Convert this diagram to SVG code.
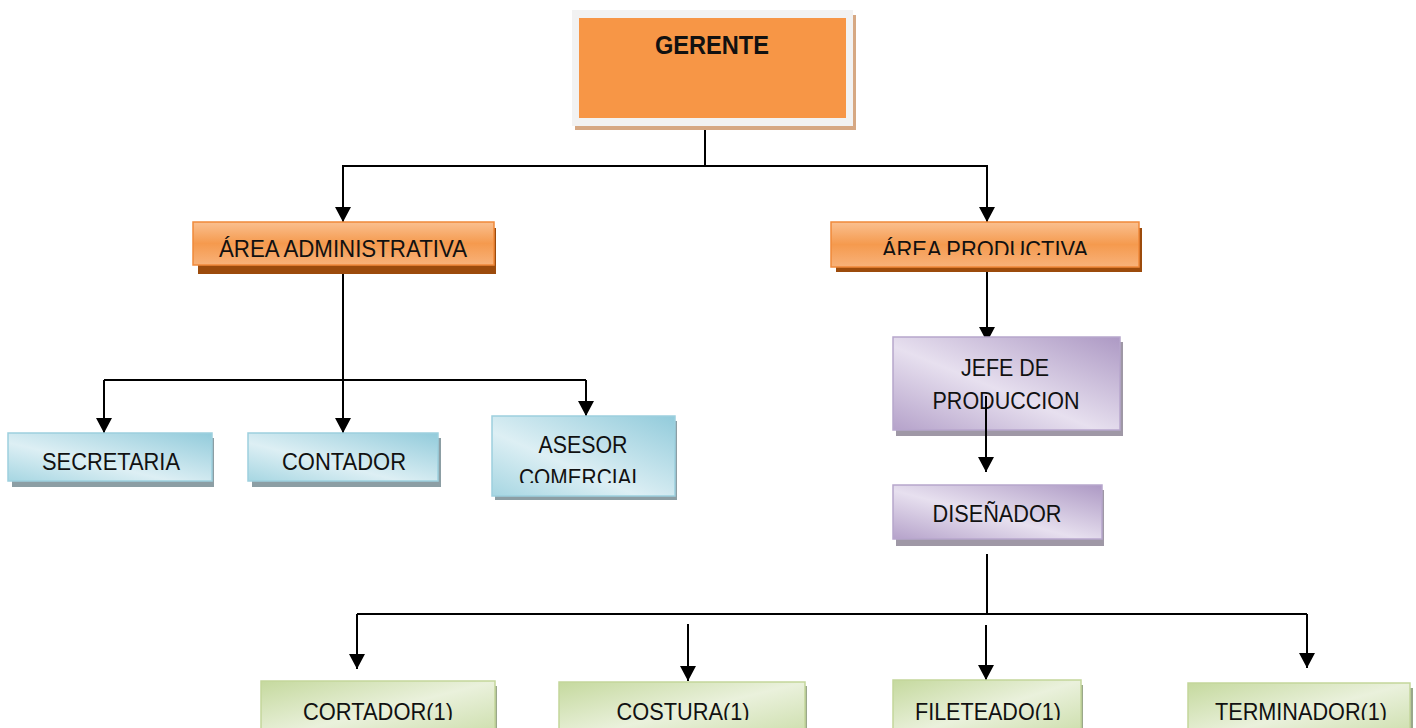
<svg xmlns="http://www.w3.org/2000/svg" width="1416" height="728" viewBox="0 0 1416 728">
<style>
text{font-family:"Liberation Sans",Arial,sans-serif;fill:#111;text-anchor:middle}
.t{font-size:24px}
.c{fill:none;stroke:#000;stroke-width:2}
.ca{fill:none;stroke:#000;stroke-width:2;marker-end:url(#ah)}
.og{fill:url(#gO);stroke:#f0893a;stroke-width:1.5}
.osh{fill:#9c4b0c}
.bl{fill:url(#gB);stroke:#9dd0de;stroke-width:1.5}
.bsh{fill:#8c9ea4}
.pu{fill:url(#gP);stroke:#b7a6cc;stroke-width:1.5}
.psh{fill:#9f98a6}
.gr{fill:url(#gG);stroke:#c3d69b;stroke-width:1.5}
.gsh{fill:#9aa88a}
</style>
<defs>
<marker id="ah" markerUnits="userSpaceOnUse" markerWidth="16" markerHeight="16" refX="15" refY="8" orient="auto">
<path d="M0,0 L15,8 L0,16 z" fill="#000"/>
</marker>
<linearGradient id="gO" x1="0" y1="0" x2="0" y2="1">
<stop offset="0" stop-color="#fac090"/>
<stop offset="0.5" stop-color="#f59a4e"/>
<stop offset="1" stop-color="#f8b27a"/>
</linearGradient>
<linearGradient id="gB" x1="0" y1="1" x2="1" y2="0">
<stop offset="0" stop-color="#a6d6e2"/>
<stop offset="0.4" stop-color="#ddeff4"/>
<stop offset="1" stop-color="#92cbdb"/>
</linearGradient>
<linearGradient id="gP" x1="0" y1="1" x2="1" y2="0">
<stop offset="0" stop-color="#b5a2ca"/>
<stop offset="0.45" stop-color="#e7e0ef"/>
<stop offset="1" stop-color="#ad99c4"/>
</linearGradient>
<linearGradient id="gG" x1="0" y1="0" x2="1" y2="1">
<stop offset="0" stop-color="#c5d99e"/>
<stop offset="0.5" stop-color="#eaf1dc"/>
<stop offset="1" stop-color="#c9dca6"/>
</linearGradient>
<clipPath id="clProd"><rect x="831" y="222" width="310" height="33"/></clipPath>
<clipPath id="clAses"><rect x="492" y="416" width="185" height="67"/></clipPath>
<clipPath id="clBot"><rect x="0" y="670" width="1416" height="50"/></clipPath>
</defs>

<g id="connectors">
<path class="c" d="M705,126 V166"/>
<path class="ca" d="M705,166 H343 V222"/>
<path class="ca" d="M705,166 H987 V222"/>
<path class="ca" d="M343,268 V433"/>
<path class="c" d="M104,380 H586"/>
<path class="ca" d="M104,380 V433"/>
<path class="ca" d="M586,380 V416"/>
<path class="ca" d="M987,268 V342"/>
<path class="c" d="M987,554 V614"/>
<path class="c" d="M357,614 H1307"/>
<path class="ca" d="M357,614 V669"/>
<path class="ca" d="M1307,614 V668"/>
<path class="ca" d="M688,624 V681"/>
<path class="ca" d="M986,625 V680"/>
</g>

<g id="gerente">
<rect x="575" y="15" width="281" height="115" fill="#d6a883"/>
<rect x="572" y="10" width="281" height="116" fill="#f2f2f2"/>
<rect x="579" y="18" width="267" height="100" fill="#f79646"/>
<text x="712" y="54" font-size="26" font-weight="bold" textLength="114" lengthAdjust="spacingAndGlyphs">GERENTE</text>
</g>

<g id="area-administrativa">
<rect class="osh" x="198" y="228" width="298" height="46"/>
<rect class="og" x="193" y="222" width="301" height="43"/>
<text class="t" x="343" y="257" textLength="248" lengthAdjust="spacingAndGlyphs">ÁREA ADMINISTRATIVA</text>
</g>

<g id="area-productiva">
<rect class="osh" x="836" y="228" width="306" height="44"/>
<rect class="og" x="831" y="222" width="308" height="45"/>
<text class="t" x="985" y="258" clip-path="url(#clProd)" textLength="206" lengthAdjust="spacingAndGlyphs">ÁREA PRODUCTIVA</text>
</g>

<g id="secretaria">
<rect class="bsh" x="12" y="438" width="202" height="49"/>
<rect class="bl" x="8" y="433" width="204" height="48"/>
<text class="t" x="111" y="470" textLength="138" lengthAdjust="spacingAndGlyphs">SECRETARIA</text>
</g>

<g id="contador">
<rect class="bsh" x="252" y="438" width="189" height="49"/>
<rect class="bl" x="248" y="433" width="190" height="48"/>
<text class="t" x="344" y="470" textLength="124" lengthAdjust="spacingAndGlyphs">CONTADOR</text>
</g>

<g id="asesor-comercial">
<rect class="bsh" x="495" y="421" width="182" height="79"/>
<rect class="bl" x="492" y="416" width="183" height="80"/>
<text class="t" x="583" y="453" textLength="89" lengthAdjust="spacingAndGlyphs">ASESOR</text>
<text class="t" x="581" y="486" clip-path="url(#clAses)" textLength="124" lengthAdjust="spacingAndGlyphs">COMERCIAL</text>
</g>

<g id="jefe-produccion">
<rect class="psh" x="896" y="342" width="227" height="94"/>
<rect class="pu" x="893" y="337" width="227" height="93"/>
<text class="t" x="1005" y="376" textLength="88" lengthAdjust="spacingAndGlyphs">JEFE DE</text>
<text class="t" x="1006" y="409" textLength="147" lengthAdjust="spacingAndGlyphs">PRODUCCION</text>
</g>

<path class="ca" d="M986,396 V472"/>

<g id="disenador">
<rect class="psh" x="896" y="490" width="208" height="56"/>
<rect class="pu" x="893" y="485" width="209" height="54"/>
<text class="t" x="997" y="522" textLength="129" lengthAdjust="spacingAndGlyphs">DISEÑADOR</text>
</g>

<g id="cortador">
<rect class="gsh" x="264" y="686" width="233" height="60"/>
<rect class="gr" x="261" y="681" width="234" height="60"/>
<text class="t" x="378" y="720" clip-path="url(#clBot)" textLength="150" lengthAdjust="spacingAndGlyphs">CORTADOR(1)</text>
</g>

<g id="costura">
<rect class="gsh" x="562" y="686" width="245" height="60"/>
<rect class="gr" x="559" y="682" width="246" height="60"/>
<text class="t" x="683" y="720" clip-path="url(#clBot)" textLength="133" lengthAdjust="spacingAndGlyphs">COSTURA(1)</text>
</g>

<g id="fileteado">
<rect class="gsh" x="896" y="685" width="187" height="60"/>
<rect class="gr" x="893" y="680" width="188" height="60"/>
<text class="t" x="988" y="720" clip-path="url(#clBot)" textLength="146" lengthAdjust="spacingAndGlyphs">FILETEADO(1)</text>
</g>

<g id="terminador">
<rect class="gsh" x="1191" y="688" width="222" height="60"/>
<rect class="gr" x="1188" y="683" width="222" height="60"/>
<text class="t" x="1301" y="720" clip-path="url(#clBot)" textLength="172" lengthAdjust="spacingAndGlyphs">TERMINADOR(1)</text>
</g>
</svg>
